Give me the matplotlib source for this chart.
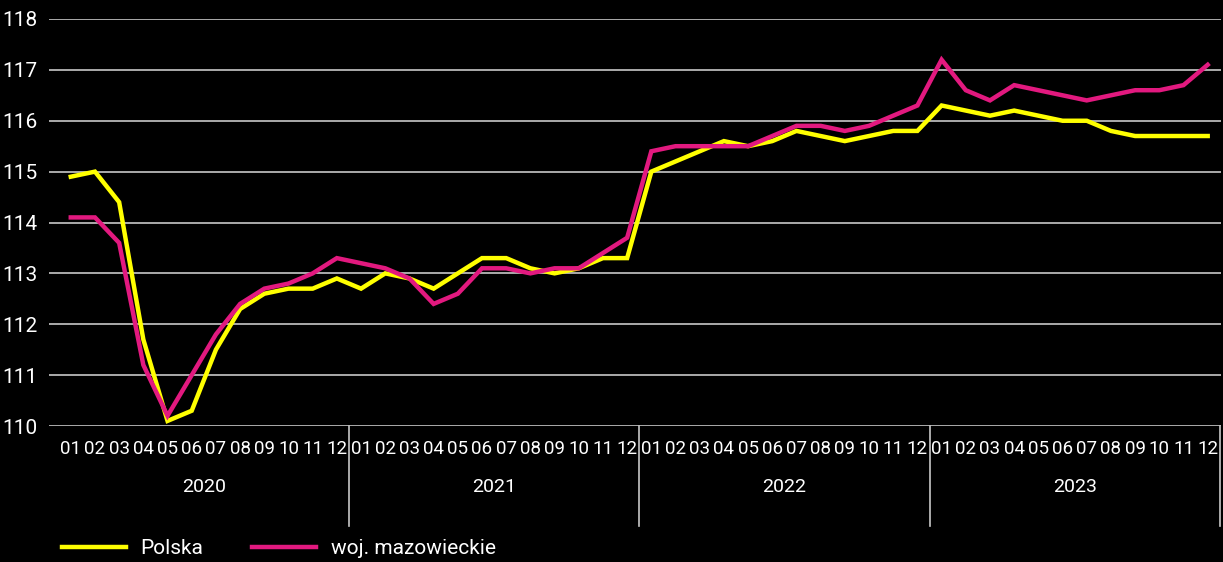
import matplotlib
matplotlib.use('Agg')
import matplotlib.pyplot as plt
import matplotlib.transforms as mtransforms
import numpy as np

plt.rcParams['font.family'] = ['Liberation Sans Narrow', 'Roboto', 'DejaVu Sans']

years = ['2020', '2021', '2022', '2023']
months = ['01', '02', '03', '04', '05', '06', '07', '08', '09', '10', '11', '12']

polska = [114.9, 115.0, 114.4, 111.7, 110.1, 110.3, 111.5, 112.3, 112.6, 112.7, 112.7, 112.9,
          112.7, 113.0, 112.9, 112.7, 113.0, 113.3, 113.3, 113.1, 113.0, 113.1, 113.3, 113.3,
          115.0, 115.2, 115.4, 115.6, 115.5, 115.6, 115.8, 115.7, 115.6, 115.7, 115.8, 115.8,
          116.3, 116.2, 116.1, 116.2, 116.1, 116.0, 116.0, 115.8, 115.7, 115.7, 115.7, 115.7]
mazowieckie = [114.1, 114.1, 113.6, 111.2, 110.2, 111.0, 111.8, 112.4, 112.7, 112.8, 113.0, 113.3,
               113.2, 113.1, 112.9, 112.4, 112.6, 113.1, 113.1, 113.0, 113.1, 113.1, 113.4, 113.7,
               115.4, 115.5, 115.5, 115.5, 115.5, 115.7, 115.9, 115.9, 115.8, 115.9, 116.1, 116.3,
               117.2, 116.6, 116.4, 116.7, 116.6, 116.5, 116.4, 116.5, 116.6, 116.6, 116.7, 117.1]

x = np.arange(len(polska))

fig = plt.figure(figsize=(12.23, 5.62), dpi=100, facecolor='black')
ax = fig.add_axes([49 / 1223, 1 - 426 / 562, 1 - 49 / 1223 - 2 / 1223, 407 / 562])
ax.set_facecolor('black')

ax.plot(x, polska, color='#FFFF00', lw=3.2, label='Polska', solid_joinstyle='miter')
ax.plot(x, mazowieckie, color='#E2197F', lw=3.2, label='woj. mazowieckie', solid_joinstyle='miter')

ax.set_ylim(110, 118)
ax.set_xlim(-0.9, 47.55)
ax.set_yticks(np.arange(110, 119, 1))
ax.yaxis.grid(True, color='#C8C8C8', lw=1.2)
ax.set_axisbelow(True)
for s in ax.spines.values():
    s.set_visible(False)
ax.tick_params(axis='y', length=0, colors='white', labelsize=15, pad=8)
ax.tick_params(axis='x', length=0, colors='white', labelsize=13.5, pad=10)
ax.set_xticks(x)
ax.set_xticklabels(months * len(years))

trans = mtransforms.blended_transform_factory(ax.transData, ax.transAxes)
for i, yr in enumerate(years):
    ax.text(i * 12 + 5.5, -0.15, yr, transform=trans, color='white', fontsize=14,
            ha='center', va='center')
    xs = i * 12 + 11.5
    ax.plot([xs, xs], [0, -0.246], transform=trans, color='#C8C8C8', lw=1.2, clip_on=False)

fig.legend(loc='lower left', bbox_to_anchor=(0.035, -0.027), ncol=2, frameon=False,
           fontsize=15, labelcolor='white', handlelength=3.1, columnspacing=2.3,
           handletextpad=0.7)

fig.savefig('out.png', dpi=100, facecolor='black')
